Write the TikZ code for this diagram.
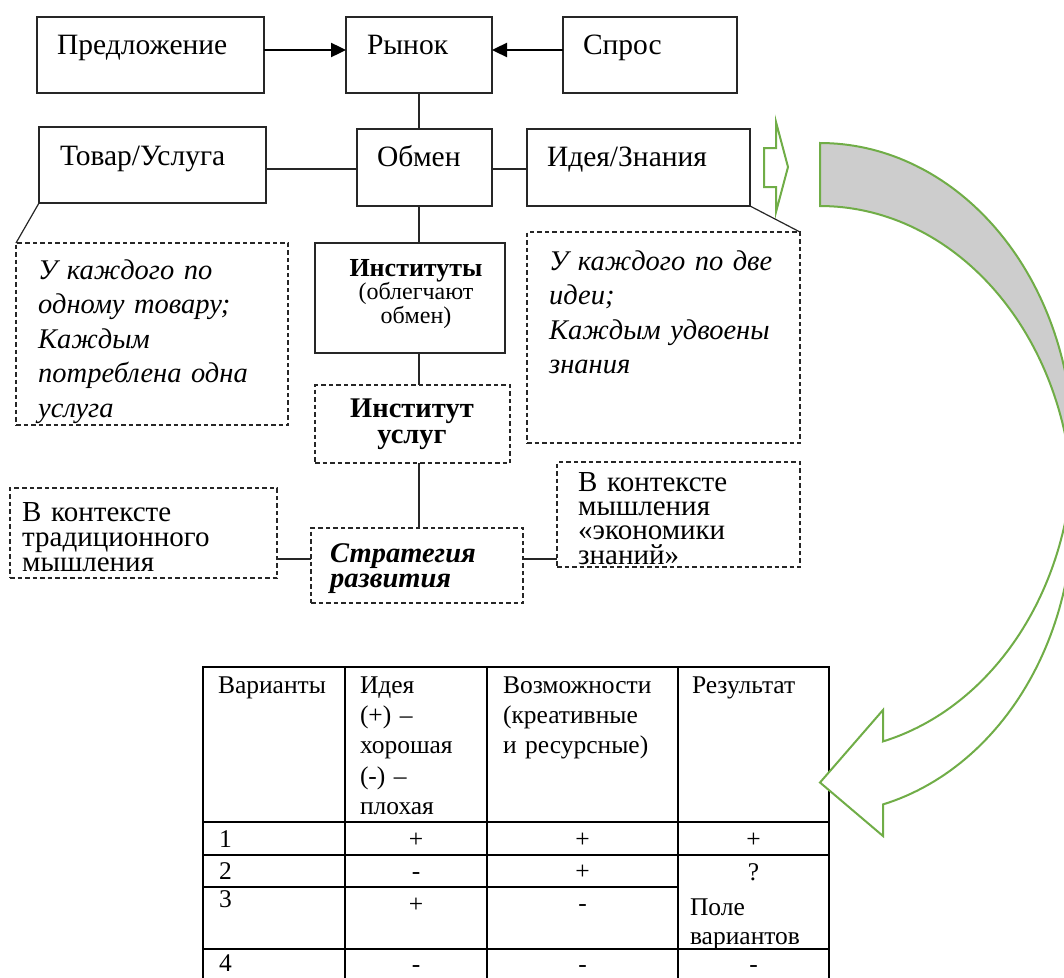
\documentclass[tikz,border=0pt]{standalone}
\usepackage{fontspec}
\setmainfont{Liberation Serif}
\usetikzlibrary{arrows.meta}

% type sizes used in the scheme
\newcommand\szBox{\fontsize{29.5pt}{34.5pt}\selectfont}
\newcommand\szCall{\fontsize{28.5pt}{34.5pt}\selectfont}
\newcommand\szInst{\fontsize{24pt}{22pt}\selectfont}
\newcommand\szServ{\fontsize{28.5pt}{26pt}\selectfont}
\newcommand\szStrat{\fontsize{28.5pt}{25pt}\selectfont}
\newcommand\szCtx{\fontsize{29pt}{25pt}\selectfont}
\newcommand\szTab{\fontsize{25.5pt}{30.4pt}\selectfont}

\definecolor{arrowgreen}{HTML}{70AD47}
\definecolor{backgray}{HTML}{CDCDCD}
\definecolor{edge}{HTML}{262626}

\begin{document}
\begin{tikzpicture}[x=1pt,y=-1pt,
  box/.style={draw=edge, line width=1.2pt, inner sep=0pt, outer sep=0pt, anchor=north west},
  dbox/.style={box, dash pattern=on 4.5pt off 3pt},
  lbl/.style={inner sep=0pt, outer sep=0pt, anchor=base west, font=\szBox},
  link/.style={draw=edge, line width=1.2pt},
  pointer/.style={draw=black, line width=2.4pt, -{Triangle[length=15pt,width=14pt]}},
  tline/.style={draw=black, line width=2pt},
  tcell/.style={inner sep=0pt, outer sep=0pt, anchor=base west, font=\szTab},
  tmark/.style={inner sep=0pt, outer sep=0pt, anchor=base, font=\szTab},
  band/.style={draw=arrowgreen, line width=2pt, line join=miter},
]
\useasboundingbox (0,0) rectangle (1064,977);
\clip (0,0) rectangle (1064,977);

% ---------- market row ----------
\node[box, minimum width=227pt, minimum height=76pt] (pred) at (37,17) {};
\node[box, minimum width=146pt, minimum height=76pt] (rynok) at (346,17) {};
\node[box, minimum width=174pt, minimum height=76pt] (spros) at (563,17) {};
\node[lbl] (predT) at (57,54) {Предложение};
\node[lbl] (rynokT) at (367,54) {Рынок};
\node[lbl] (sprosT) at (583,54) {Спрос};
\draw[pointer] ([yshift=5pt]pred.east) -- ([yshift=5pt]rynok.west);
\draw[pointer] ([yshift=5pt]spros.west) -- ([yshift=5pt]rynok.east);

% ---------- exchange row ----------
\node[box, minimum width=227pt, minimum height=76pt] (tovar) at (39,127) {};
\node[box, minimum width=135pt, minimum height=77pt] (obmen) at (357,129) {};
\node[box, minimum width=223pt, minimum height=77pt] (idea) at (527,129) {};
\node[lbl] (tovarT) at (60,165) {Товар/Услуга};
\node[lbl] (obmenT) at (377,166) {Обмен};
\node[lbl] (ideaT) at (547,166) {Идея/Знания};
\coordinate (spine) at (419,0);
\draw[link] (rynok.south -| spine) -- (obmen.north -| spine);
\draw[link] ([yshift=-1.5pt]obmen.west) -- ([yshift=-1.5pt]obmen.west -| tovar.east);
\draw[link] ([yshift=-1.5pt]obmen.east) -- ([yshift=-1.5pt]obmen.east -| idea.west);

% small block arrow beside the ideas box
\draw[band, fill=white] (764,148) -- (776,148) -- (776,122) -- (788,167)
  -- (776,212) -- (776,187) -- (764,187) -- cycle;

% ---------- callouts ----------
\node[dbox, minimum width=272pt, minimum height=182pt] (callL) at (16,243) {};
\node[dbox, minimum width=273pt, minimum height=211pt] (callR) at (527,232) {};
\draw[link] (tovar.south west) -- (callL.north west);
\draw[link] (idea.south east) -- (callR.north east);
\node[inner sep=0pt, font=\szCall, text width=250pt, align=left, anchor=base west] (callLT) at (38,279)
  {\itshape У каждого по\\одному товару;\\Каждым\\потреблена одна\\услуга};
\node[inner sep=0pt, font=\szCall, text width=250pt, align=left, anchor=base west] (callRT) at (549,270)
  {\itshape У каждого по две\\идеи;\\Каждым удвоены\\знания};

% ---------- institutions ----------
\node[box, minimum width=190pt, minimum height=110pt] (inst) at (315,243) {};
\node[inner sep=0pt, anchor=base, text width=190pt, align=center, font=\szInst] (instT) at (416,276)
  {{\fontsize{26pt}{22pt}\selectfont\bfseries Институты}\\(облегчают\\обмен)};
\draw[link] (obmen.south -| spine) -- (inst.north -| spine);

\node[dbox, minimum width=195pt, minimum height=78pt] (serv) at (315,385) {};
\node[inner sep=0pt, anchor=base, text width=195pt, align=center, font=\szServ] (servT) at (412,417)
  {\bfseries Институт\\услуг};
\draw[link] (inst.south -| spine) -- (serv.north -| spine);

\node[dbox, minimum width=212pt, minimum height=75pt] (strat) at (311,528) {};
\node[inner sep=0pt, anchor=base west, text width=190pt, align=left, font=\szStrat] (stratT) at (330,562)
  {\bfseries\itshape Стратегия\\развития};
\draw[link] (serv.south -| spine) -- (strat.north -| spine);

% ---------- thinking contexts ----------
\node[dbox, minimum width=267pt, minimum height=90pt] (ctxL) at (10,488) {};
\node[dbox, minimum width=243pt, minimum height=105pt] (ctxR) at (557,462) {};
\node[inner sep=0pt, anchor=base west, text width=250pt, align=left, font=\szCtx] (ctxLT) at (22,521)
  {В контексте\\традиционного\\мышления};
\node[inner sep=0pt, anchor=base west, text width=230pt, align=left,
      font=\fontsize{29pt}{24.4pt}\selectfont] (ctxRT) at (578,491)
  {В контексте\\мышления\\«экономики\\знаний»};
\coordinate (midrow) at (0,559);
\draw[link] (strat.west |- midrow) -- (ctxL.east |- midrow);
\draw[link] (strat.east |- midrow) -- (ctxR.west |- midrow);

% ---------- table of variants ----------
\draw[tline] (203,667) -- (829,667);
\draw[tline] (203,822) -- (829,822);
\draw[tline] (203,855) -- (829,855);
\draw[tline] (203,887) -- (678,887);
\draw[tline] (203,949) -- (829,949);
\foreach \cx in {203,345,487,678,829} \draw[tline] (\cx,666) -- (\cx,990);

\node[tcell] (hVar) at (218,693) {Варианты};
\node[tcell, text width=120pt, align=left] (hIdea) at (360,693) {Идея\\(+) –\\хорошая\\(-) –\\плохая};
\node[tcell, text width=170pt, align=left] (hCap) at (503,693) {Возможности\\(креативные\\и ресурсные)};
\node[tcell] (hRes) at (692,693) {Результат};

\node[tcell] (n1) at (219,847) {1};
\node[tmark] (a1) at (416,847) {+};
\node[tmark] (b1) at (582.5,847) {+};
\node[tmark] (c1) at (753.5,847) {+};

\node[tcell] (n2) at (219,879) {2};
\node[tmark] (a2) at (416,879) {-};
\node[tmark] (b2) at (582.5,879) {+};
\node[tmark] (c2) at (753.5,880) {?};

\node[tcell] (n3) at (219,907) {3};
\node[tmark] (a3) at (416,912) {+};
\node[tmark] (b3) at (582.5,911) {-};
\node[tcell, text width=140pt, align=left, font=\fontsize{25.5pt}{29pt}\selectfont] (c3) at (690,915) {Поле\\вариантов};

\node[tcell] (n4) at (219,971) {4};
\node[tmark] (a4) at (416,972) {-};
\node[tmark] (b4) at (582.5,972) {-};
\node[tmark] (c4) at (753.5,972) {-};

% ---------- curved arrow from the ideas box to the table ----------
% front (white) part: arrow head and the lower half of the band
\draw[band, fill=white] (820,782.5) -- (883,710) -- (883,741.4)
  -- plot[domain=75.58:5.95, samples=60] ({820+253*cos(\x)}, {447+304*sin(\x)})
  -- plot[domain=-5.95:75.58, samples=60] ({820+253*cos(\x)}, {510+304*sin(\x)})
  -- (883,836) -- cycle;
% back (shaded) part: the upper half of the band
\draw[band, fill=backgray]
  plot[domain=-90:0, samples=70] ({820+253*cos(\x)}, {447+304*sin(\x)})
  -- plot[domain=0:-90, samples=70] ({820+253*cos(\x)}, {510+304*sin(\x)})
  -- cycle;
\end{tikzpicture}
\end{document}
